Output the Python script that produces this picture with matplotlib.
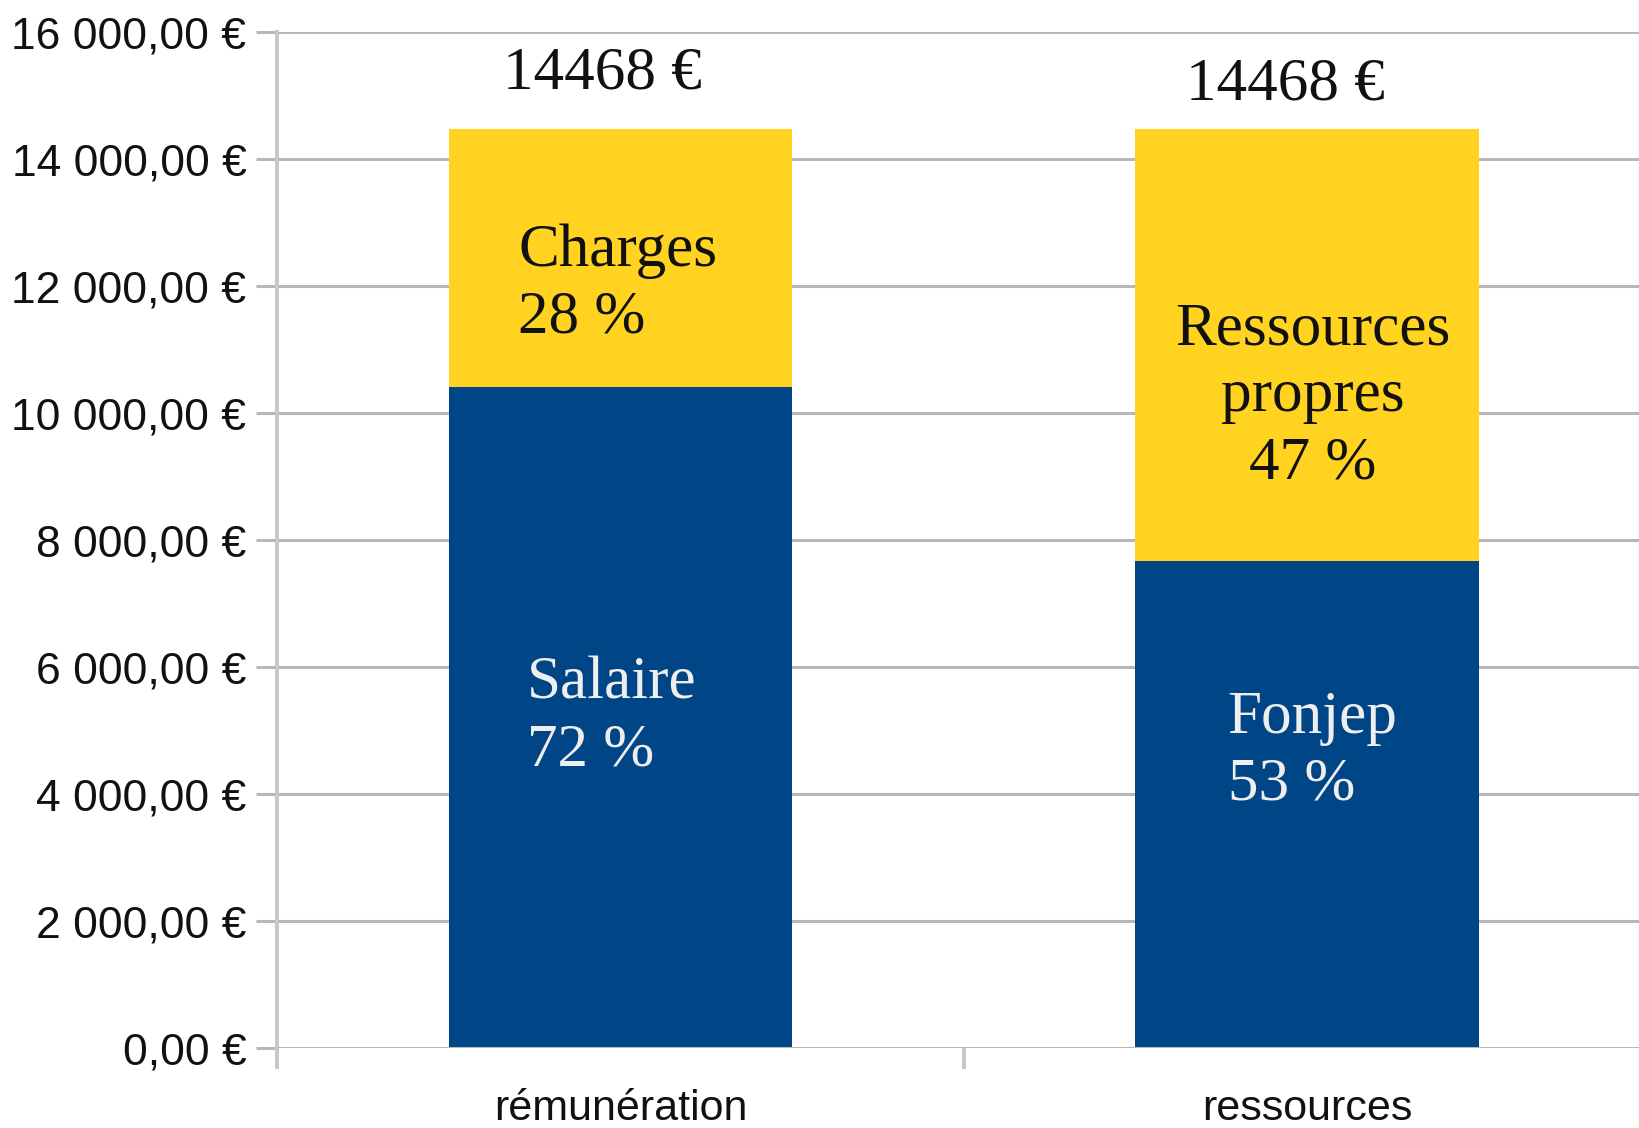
import matplotlib.pyplot as plt
from matplotlib.ticker import FuncFormatter, FixedLocator

# data
categories = ['rémunération', 'ressources']
bottom_names = ['Salaire', 'Fonjep']
bottom_values = [10417, 7668]
top_names = ['Charges', 'Ressources\npropres']
top_values = [4051, 6800]

blue = '#004586'
yellow = '#ffd320'
grid_gray = '#b8b8b8'
axis_gray = '#c8c8c8'

fig = plt.figure(figsize=(16.39, 11.28), dpi=100)
ax = fig.add_axes([0.169, 0.0709, 0.838, 0.9007])

x = list(range(len(categories)))
ax.bar(x, bottom_values, width=0.5, color=blue, zorder=2)
ax.bar(x, top_values, width=0.5, bottom=bottom_values, color=yellow, zorder=2)

ax.set_xlim(-0.5, 1.5)
ax.set_ylim(0, 16000)

# grid and axes
ax.yaxis.set_major_locator(FixedLocator(range(0, 16001, 2000)))
ax.grid(axis='y', color=grid_gray, linewidth=2.2, zorder=0)
ax.set_axisbelow(True)
for s in ['top', 'right', 'bottom']:
    ax.spines[s].set_visible(False)
ax.spines['left'].set_color(axis_gray)
ax.spines['left'].set_linewidth(2.9)
ax.axhline(0, color=grid_gray, linewidth=2.2, zorder=3)


def euro(v, pos):
    s = f"{v:,.2f}".replace(',', ' ').replace('.', ',')
    return s + ' €'


ax.yaxis.set_major_formatter(FuncFormatter(euro))
ax.tick_params(axis='y', length=15, width=2.2, color=grid_gray, pad=7,
               labelsize=32, labelcolor='#111111')
for lab in ax.get_yticklabels():
    lab.set_fontfamily('Liberation Sans')

ax.set_xticks([-0.5, 0.5, 1.5])
ax.set_xticklabels([])
ax.tick_params(axis='x', which='major', length=15, width=2.9, color=axis_gray)
ax.set_xticks(x, minor=True)
ax.set_xticklabels(categories, minor=True, fontfamily='Liberation Sans',
                   fontsize=31, color='#111111')
ax.tick_params(axis='x', which='minor', length=0, pad=29.5)

# labels inside the bars
serif = 'Liberation Serif'
totals = [b + t for b, t in zip(bottom_values, top_values)]
bottom_off = [(-6, 0, 'left'), (4, 38, 'left')]
top_off = [(-2, -19, 'left'), (4, -37, 'center')]
total_off = [(-13, 40), (-16, 32)]
for i in x:
    tot = totals[i]
    bv = bottom_values[i]
    tv = top_values[i]
    dx, dy, al = bottom_off[i]
    ax.annotate(f"{bottom_names[i]}\n{bv / tot * 100:.0f} %",
                (i, bv / 2), xytext=(dx, dy), textcoords='offset points',
                ha='center', va='center', multialignment=al,
                fontfamily=serif, fontsize=44, color='#eeeeee',
                linespacing=1.25, zorder=4)
    dx, dy, al = top_off[i]
    ax.annotate(f"{top_names[i]}\n{tv / tot * 100:.0f} %",
                (i, bv + tv / 2), xytext=(dx, dy), textcoords='offset points',
                ha='center', va='center', multialignment=al,
                fontfamily=serif, fontsize=44, color='#111111',
                linespacing=1.27, zorder=4)
    dx, dy = total_off[i]
    ax.annotate(f"{tot:.0f} €", (i, tot), xytext=(dx, dy),
                textcoords='offset points', ha='center', va='center',
                fontfamily=serif, fontsize=44, color='#111111', zorder=4)

fig.savefig('out.png', dpi=100)
